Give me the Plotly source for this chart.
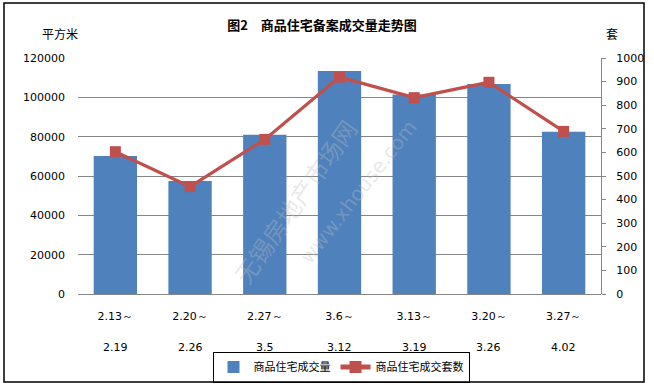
import plotly.graph_objects as go

categories = ["2.13～", "2.20～", "2.27～", "3.6～", "3.13～", "3.20～", "3.27～"]
categories_end = ["2.19", "2.26", "3.5", "3.12", "3.19", "3.26", "4.02"]
area_values = [70200, 57500, 81000, 113400, 101500, 106800, 82500]
unit_values = [603, 455, 655, 919, 832, 897, 689]
left_ticks = [0, 20000, 40000, 60000, 80000, 100000, 120000]
right_ticks = [0, 100, 200, 300, 400, 500, 600, 700, 800, 900, 1000]

W, H = 654, 385
L, R, T, B = 78, 53, 58, 91
PW, PH = W - L - R, H - T - B

def px_x(x):
    return (x - L) / PW

def px_y(y):
    return (H - B - y) / PH

xs = list(range(len(categories)))
tickfont = dict(family="DejaVu Sans, Verdana, sans-serif", size=11, color="#000000")
cjk = "Noto Sans CJK SC, sans-serif"

fig = go.Figure()
fig.add_trace(go.Bar(
    x=xs, y=area_values, name="商品住宅成交量",
    marker=dict(color="#4F81BD", line=dict(width=0)),
))
fig.add_trace(go.Scatter(
    x=xs, y=unit_values, name="商品住宅成交套数", yaxis="y2",
    mode="lines+markers",
    line=dict(color="#C0504D", width=3.2),
    marker=dict(symbol="square", size=11, color="#C0504D"),
))

annotations = []
for i, t in enumerate(categories_end):
    annotations.append(dict(x=i, y=px_y(347), xref="x", yref="paper",
                            text=t, showarrow=False, font=tickfont, yanchor="middle"))

annotations += [
    dict(text="平方米", x=px_x(60), y=px_y(33), xref="paper", yref="paper",
         showarrow=False, font=dict(family=cjk, size=12, color="#000"), xanchor="center", yanchor="middle"),
    dict(text="套", x=px_x(612), y=px_y(33), xref="paper", yref="paper",
         showarrow=False, font=dict(family=cjk, size=12, color="#000"), xanchor="center", yanchor="middle"),
    dict(text="无锡房地产市场网", x=2.4, y=47000, xref="x", yref="y", showarrow=False,
         textangle=-55, font=dict(family=cjk, size=24, color="rgba(190,190,190,0.35)")),
    dict(text="www.xhouse.com", x=3.25, y=52000, xref="x", yref="y", showarrow=False,
         textangle=-52, font=dict(family="DejaVu Sans, sans-serif", size=20, color="rgba(190,190,190,0.35)")),
]

fig.update_layout(
    width=W, height=H,
    margin=dict(l=L, r=R, t=T, b=B, pad=0, autoexpand=False),
    paper_bgcolor="white", plot_bgcolor="white",
    title=dict(text="<b>图2　商品住宅备案成交量走势图</b>", x=322 / W, xanchor="center",
               y=1 - 25 / H, yanchor="middle", yref="container",
               font=dict(family=cjk, size=13, color="#000")),
    bargap=0.42,
    showlegend=True,
    legend=dict(orientation="h", x=341 / W, xanchor="center", xref="container",
                y=1 - 367 / H, yanchor="middle", yref="container",
                bordercolor="#000", borderwidth=1, bgcolor="rgba(255,255,255,0)",
                font=dict(family=cjk, size=11, color="#000"),
                itemsizing="constant", tracegroupgap=0, itemwidth=30),
    xaxis=dict(tickmode="array", tickvals=xs, ticktext=categories, range=[-0.5, 6.5],
               showgrid=False, showline=False, ticks="", tickfont=tickfont,
               ticklabelstandoff=14, zeroline=False),
    yaxis=dict(range=[0, 120000], tickvals=left_ticks, tickformat="d", showgrid=True,
               gridcolor="#868686", gridwidth=1, zeroline=True, zerolinecolor="#868686",
               zerolinewidth=1, showline=False, ticks="", tickfont=tickfont, ticklabelstandoff=12),
    yaxis2=dict(range=[0, 1000], tickvals=right_ticks, tickformat="d", overlaying="y", side="right",
                showgrid=False, zeroline=False, showline=True, linecolor="#868686", linewidth=1,
                ticks="outside", ticklen=4, tickcolor="#868686", tickfont=tickfont,
                ticklabelstandoff=8),
    annotations=annotations,
    shapes=[dict(type="rect", xref="paper", yref="paper",
                 x0=px_x(4), x1=px_x(644), y0=px_y(382), y1=px_y(3),
                 line=dict(color="#000", width=1.5), fillcolor="rgba(0,0,0,0)", layer="above")],
)

fig.write_html("out.html", config={"displayModeBar": False},
               post_script="document.body.style.margin='0';document.body.style.overflow='hidden';")
